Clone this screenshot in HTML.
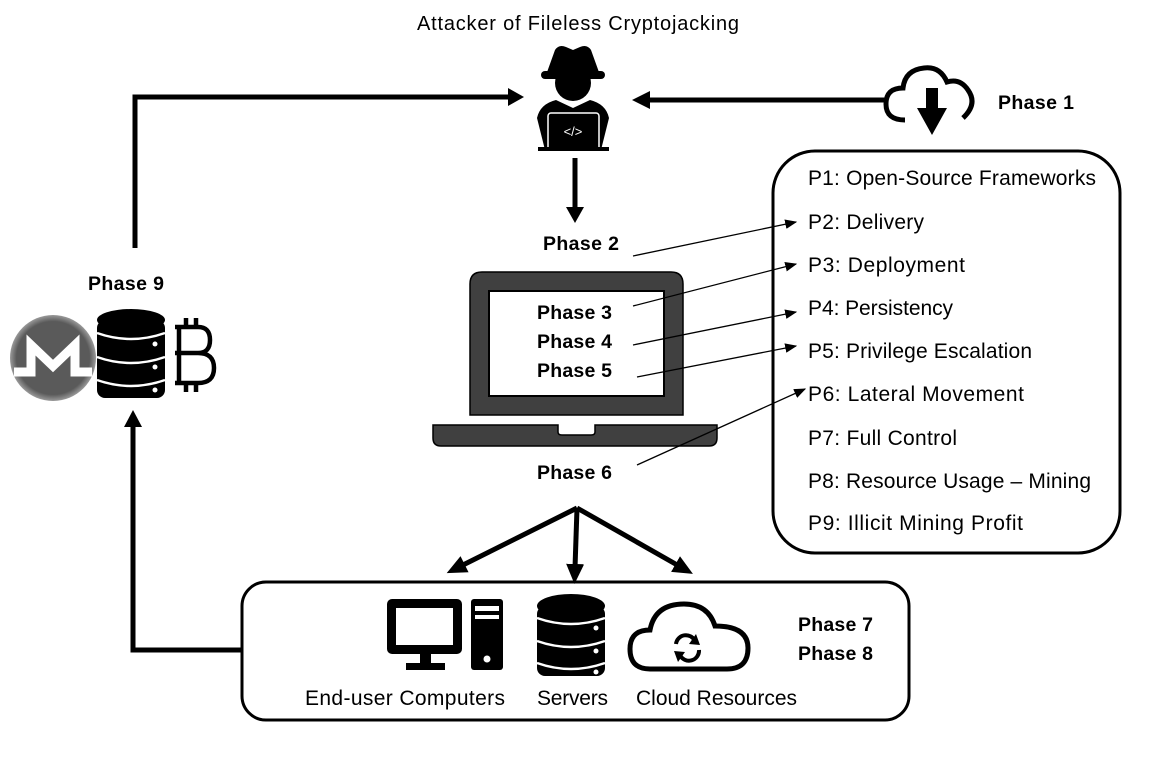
<!DOCTYPE html>
<html><head><meta charset="utf-8"><style>html,body{margin:0;padding:0;background:#fff}svg{display:block}text{font-family:"Liberation Sans",sans-serif;fill:#000}.b{font-weight:bold;font-size:19.5px}.t{font-size:21px}</style></head><body>
<svg width="1152" height="776" viewBox="0 0 1152 776" xmlns="http://www.w3.org/2000/svg">
<defs>
<marker id="ah" viewBox="0 0 10 10" refX="9" refY="5" markerWidth="12" markerHeight="12" markerUnits="userSpaceOnUse" orient="auto"><path d="M0,1 L10,5 L0,9 z" fill="#000"/></marker>
<marker id="bh" viewBox="0 0 10 10" refX="2" refY="5" markerWidth="4" markerHeight="4" orient="auto"><path d="M0,0.5 L10,5 L0,9.5 z" fill="#000"/></marker>
</defs>
<text x="578" y="30" text-anchor="middle" font-size="20" textLength="322">Attacker of Fileless Cryptojacking</text>

<!-- attacker -->
<g fill="#000">
<path d="M546,75 L555,50 Q559,44 566,47 L573,50 L580,47 Q587,44 591,50 L600,75 Z"/>
<rect x="541" y="71" width="64" height="8" rx="4"/>
<circle cx="573" cy="83" r="18"/>
<path d="M545,150 L537,118 Q540,104 556,100 L573,108 L590,100 Q606,104 609,118 L601,150 Z"/>
</g>
<rect x="548" y="113" width="51" height="37" rx="3" fill="#000" stroke="#fff" stroke-width="1.5"/>
<rect x="538" y="147" width="71" height="4" fill="#000"/>
<text x="573" y="136" text-anchor="middle" font-size="13" style="fill:#fff">&lt;/&gt;</text>

<!-- cloud download -->
<path d="M905,120 Q886,120 886,104 Q886,88 903,88 Q905,70 924,68 Q940,66 947,82 Q960,78 968,90 Q978,104 963,118" fill="none" stroke="#000" stroke-width="5"/>
<path d="M926,88 h12 v20 h9 l-15,27 l-15,-27 h9 z" fill="#000"/>
<text x="998" y="109" class="b" textLength="76">Phase 1</text>

<!-- top arrows -->
<polyline points="135,248 135,97 512,97" fill="none" stroke="#000" stroke-width="5"/>
<path d="M524,97 L508,88 L508,106 z"/>
<line x1="886" y1="100" x2="646" y2="100" stroke="#000" stroke-width="5"/>
<path d="M632,100 L650,91 L650,109 z"/>
<line x1="575" y1="158" x2="575" y2="210" stroke="#000" stroke-width="5"/>
<path d="M575,223 L566,207 L584,207 z"/>
<text x="543" y="250" class="b" textLength="76">Phase 2</text>

<!-- right box -->
<rect x="773" y="151" width="347" height="402" rx="42" fill="none" stroke="#000" stroke-width="3"/>
<text x="808" y="185" class="t" textLength="288">P1: Open-Source Frameworks</text>
<text x="808" y="229" class="t" textLength="116">P2: Delivery</text>
<text x="808" y="272" class="t" textLength="157">P3: Deployment</text>
<text x="808" y="315" class="t" textLength="145">P4: Persistency</text>
<text x="808" y="358" class="t" textLength="224">P5: Privilege Escalation</text>
<text x="808" y="401" class="t" textLength="216">P6: Lateral Movement</text>
<text x="808" y="445" class="t" textLength="149">P7: Full Control</text>
<text x="808" y="488" class="t" textLength="283">P8: Resource Usage – Mining</text>
<text x="808" y="530" class="t" textLength="215">P9: Illicit Mining Profit</text>

<!-- laptop -->
<path d="M470,415 V284 Q470,272 482,272 H671 Q683,272 683,284 V415 Z" fill="#404040" stroke="#000" stroke-width="1.5"/>
<rect x="489" y="291" width="175" height="105" fill="#fff" stroke="#000" stroke-width="2"/>
<path d="M433,425 H558 V432 Q558,435 562,435 H591 Q595,435 595,432 V425 H717 V438 Q717,446 709,446 H441 Q433,446 433,438 Z" fill="#404040" stroke="#000" stroke-width="1.5"/>
<text x="537" y="319" class="b" textLength="75">Phase 3</text>
<text x="537" y="348" class="b" textLength="75">Phase 4</text>
<text x="537" y="377" class="b" textLength="75">Phase 5</text>
<text x="537" y="479" class="b" textLength="75">Phase 6</text>

<g stroke="#000" stroke-width="1.3" marker-end="url(#ah)">
<line x1="633" y1="256" x2="796" y2="222"/>
<line x1="633" y1="306" x2="796" y2="264"/>
<line x1="633" y1="345" x2="796" y2="312"/>
<line x1="637" y1="377" x2="796" y2="346"/>
<line x1="637" y1="465" x2="805" y2="389"/>
</g>

<!-- three arrows -->
<g stroke="#000" stroke-width="5" marker-end="url(#bh)">
<line x1="577" y1="508" x2="461" y2="566"/>
<line x1="577" y1="508" x2="575" y2="568"/>
<line x1="577" y1="508" x2="679" y2="566"/>
</g>

<!-- bottom box -->
<rect x="242" y="582" width="667" height="138" rx="24" fill="none" stroke="#000" stroke-width="3"/>
<rect x="387" y="599" width="75" height="55" rx="5" fill="#000"/>
<rect x="396" y="608" width="57" height="37" fill="#fff"/>
<rect x="420" y="654" width="11" height="10" fill="#000"/>
<rect x="406" y="663" width="39" height="7" fill="#000"/>
<rect x="471" y="599" width="32" height="71" rx="3" fill="#000"/>
<rect x="475" y="606" width="24" height="5" fill="#fff"/>
<rect x="475" y="615" width="24" height="4" fill="#fff"/>
<circle cx="487" cy="659" r="3.5" fill="#fff"/>
<g fill="#000">
<ellipse cx="571" cy="606" rx="34" ry="12"/>
<rect x="537" y="606" width="68" height="70" rx="8"/>
</g>
<g stroke="#fff" stroke-width="2.5" fill="none"><path d="M537,618 Q571,630 605,618"/><path d="M537,641 Q571,653 605,641"/><path d="M537,663 Q571,675 605,663"/></g>
<g fill="#fff"><circle cx="596" cy="628" r="2.5"/><circle cx="596" cy="651" r="2.5"/><circle cx="596" cy="672" r="2.5"/></g>
<path d="M650,669 Q630,669 630,649 Q630,630 650,630 Q655,604 684,604 Q708,604 715,626 Q748,626 748,648 Q748,669 727,669 Z" fill="none" stroke="#000" stroke-width="5"/>
<path d="M676,644 A10,10 0 0 1 695,641 M699,650 A10,10 0 0 1 680,655" fill="none" stroke="#000" stroke-width="4"/>
<path d="M696,634 L700,645 L689,644 z M678,662 L674,651 L685,652 z" fill="#000"/>
<text x="305" y="705" class="t" textLength="200">End-user Computers</text>
<text x="537" y="705" class="t" textLength="71">Servers</text>
<text x="636" y="705" class="t" textLength="161">Cloud Resources</text>
<text x="798" y="631" class="b" textLength="75">Phase 7</text>
<text x="798" y="660" class="b" textLength="75">Phase 8</text>

<!-- left return -->
<polyline points="242,650 133,650 133,425" fill="none" stroke="#000" stroke-width="5"/>
<path d="M133,410 L124,427 L142,427 z"/>
<text x="88" y="290" class="b" textLength="76">Phase 9</text>

<!-- monero -->
<defs><radialGradient id="mg"><stop offset="0.85" stop-color="#5a5a5a"/><stop offset="1" stop-color="#9a9a9a"/></radialGradient></defs>
<circle cx="53" cy="358" r="43" fill="url(#mg)"/>
<path d="M14,372 H31 V345 L53,366 L75,345 V372 H92" fill="none" stroke="#fff" stroke-width="9" stroke-linejoin="miter"/>
<!-- db -->
<g fill="#000"><ellipse cx="131" cy="320" rx="34" ry="11"/><rect x="97" y="320" width="68" height="78" rx="8"/></g>
<g stroke="#fff" stroke-width="2.5" fill="none"><path d="M97,333 Q131,345 165,333"/><path d="M97,357 Q131,369 165,357"/><path d="M97,380 Q131,392 165,380"/></g>
<g fill="#fff"><circle cx="155" cy="344" r="2.5"/><circle cx="155" cy="367" r="2.5"/><circle cx="155" cy="390" r="2.5"/></g>
<!-- bitcoin -->
<g fill="none" stroke="#000" stroke-width="4.5">
<path d="M175,327 H198 Q210,327 210,340 Q210,353 198,353 H175 M198,353 Q214,353 214,368 Q214,383 198,383 H175 M179,327 V383"/>
<path d="M186,318 V327 M196,318 V327 M186,383 V392 M196,383 V392"/>
</g>
</svg>
</body></html>
